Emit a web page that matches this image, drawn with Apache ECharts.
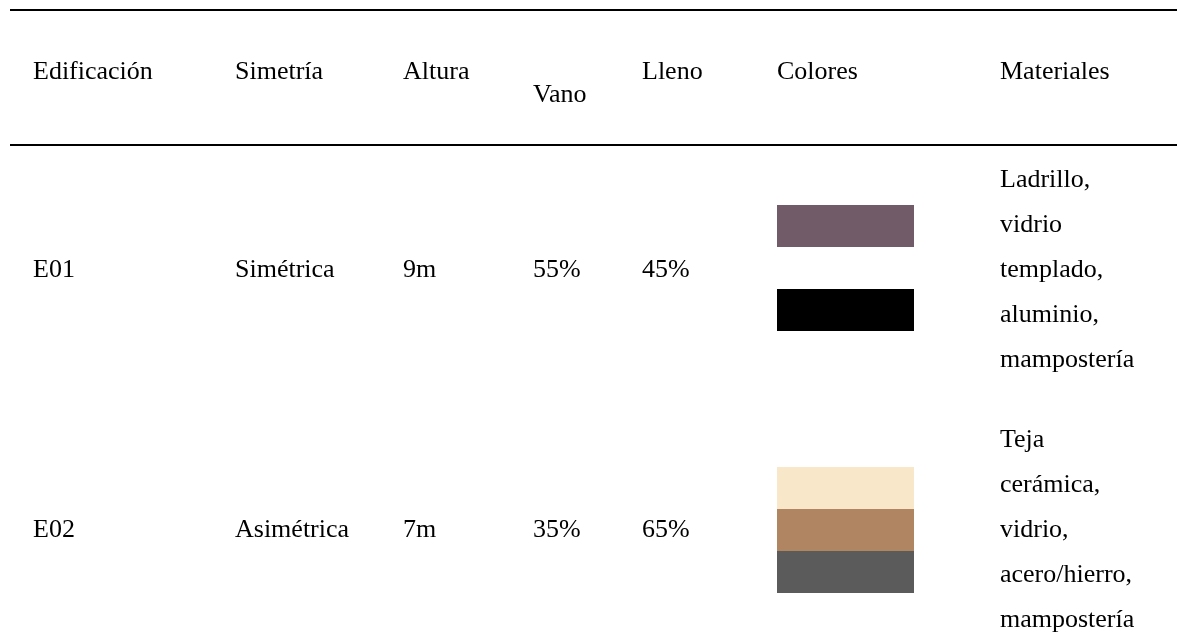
<!DOCTYPE html>
<html><head><meta charset="utf-8">
<script src="https://cdn.jsdelivr.net/npm/echarts@6/dist/echarts.min.js"></script>
<style>html,body{margin:0;padding:0;background:#fff}#c{width:1177px;height:639px}</style>
</head><body><div id="c"></div>
<script>
// ---- data ----
const headers = ['Edificación', 'Simetría', 'Altura', 'Vano', 'Lleno', 'Colores', 'Materiales'];
const buildings = ['E01', 'E02'];
const symmetry = ['Simétrica', 'Asimétrica'];
const heights = ['9m', '7m'];
const vanoPct = ['55%', '35%'];
const llenoPct = ['45%', '65%'];
const swatchColors = [
  ['#725B68', '#FFFFFF', '#000000'],
  ['#F8E7C8', '#B08662', '#5B5B5B']
];
const materials = [
  ['Ladrillo,', 'vidrio', 'templado,', 'aluminio,', 'mampostería'],
  ['Teja', 'cerámica,', 'vidrio,', 'acero/hierro,', 'mampostería']
];

// ---- layout (axis units = pixels of the 1177x639 canvas) ----
const colX = [33, 235, 403, 533, 642, 777, 1000];
const headerBaseline = [80, 80, 80, 103, 80, 80, 80];
const rowBaseline = [278, 538];
const rowCenter = [268, 530];
const ruleY = [10, 145];
const ruleX = [10, 1177];
const swatchW = 137, swatchH = 42;
const lineGap = 45;
const FONT = "'Liberation Serif', 'Times New Roman', serif";
const FS = 26;
const BASE_OFF = 8; // baseline minus middle

// build text cells
const cells = [];
headers.forEach((h, i) => cells.push({ x: colX[i], y: headerBaseline[i] - BASE_OFF, t: h }));
buildings.forEach((b, r) => {
  const vals = [b, symmetry[r], heights[r], vanoPct[r], llenoPct[r]];
  vals.forEach((v, i) => cells.push({ x: colX[i], y: rowBaseline[r] - BASE_OFF, t: v }));
  materials[r].forEach((m, k) => cells.push({
    x: colX[6], y: rowBaseline[r] - BASE_OFF + (k - 2) * lineGap, t: m
  }));
});

// swatches
const sw = [];
swatchColors.forEach((cols, r) => {
  const n = cols.length;
  cols.forEach((c, k) => sw.push({ x: colX[5], y: rowCenter[r] - n * swatchH / 2 + k * swatchH, c: c }));
});

const chart = echarts.init(document.getElementById('c'), null, { renderer: 'canvas' });
chart.setOption({
  animation: false,
  backgroundColor: '#ffffff',
  grid: { left: 0, right: 0, top: 0, bottom: 0 },
  xAxis: { type: 'value', min: 0, max: 1177, show: false },
  yAxis: { type: 'value', min: 0, max: 639, inverse: true, show: false },
  series: [
    {
      type: 'custom', clip: false, silent: true,
      data: ruleY.map(y => [ruleX[0], y, ruleX[1]]),
      renderItem: (p, api) => {
        const a = api.coord([api.value(0), api.value(1)]);
        const b = api.coord([api.value(2), api.value(1)]);
        return { type: 'line', shape: { x1: a[0], y1: a[1], x2: b[0], y2: b[1] },
          style: { stroke: '#000', lineWidth: 2 } };
      }
    },
    {
      type: 'custom', clip: false, silent: true,
      data: sw.map(s => [s.x, s.y]),
      renderItem: (p, api) => {
        const a = api.coord([api.value(0), api.value(1)]);
        const b = api.coord([api.value(0) + swatchW, api.value(1) + swatchH]);
        return { type: 'rect', shape: { x: a[0], y: a[1], width: b[0] - a[0], height: b[1] - a[1] },
          style: { fill: sw[p.dataIndex].c } };
      }
    },
    {
      type: 'custom', clip: false, silent: true,
      data: cells.map(c => [c.x, c.y]),
      renderItem: (p, api) => {
        const a = api.coord([api.value(0), api.value(1)]);
        return { type: 'text', x: a[0], y: a[1],
          style: { text: cells[p.dataIndex].t, fill: '#000', font: FS + 'px ' + FONT,
            align: 'left', verticalAlign: 'middle' } };
      }
    }
  ]
});
</script></body></html>
